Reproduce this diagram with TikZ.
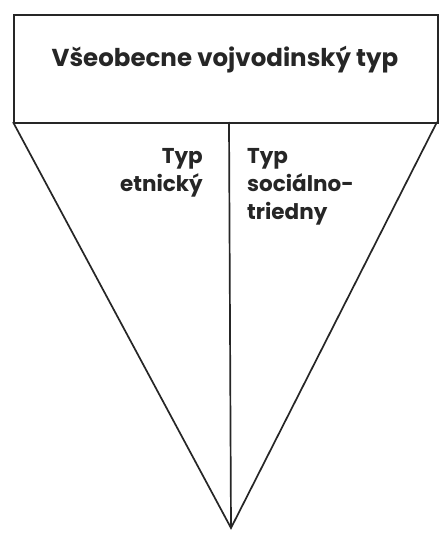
\documentclass[tikz,border=0pt]{standalone}
\usepackage{fontspec}
\setmainfont{Poppins}
\begin{document}
\begin{tikzpicture}[x=1pt,y=-1pt,
  frame/.style={draw=black!85, line width=1.7pt},
  lbl/.style={font=\bfseries\fontsize{21.5}{28}\selectfont, text=black!85, inner sep=0pt}]
\useasboundingbox (0,0) rectangle (440,533);
\fill[white] (0,0) rectangle (440,533);
\node[frame, minimum width=424pt, minimum height=108pt, anchor=north west, inner sep=0pt] (top) at (13,14) {};
\node[lbl, font=\bfseries\fontsize{24.5}{28}\selectfont] (title) at (225,60) {Všeobecne vojvodinský typ};
\coordinate (tl) at (13,122);
\coordinate (tr) at (437,122);
\coordinate (apex) at (231,528);
\coordinate (mid) at (229,122);
\draw[frame, line join=miter] (tl) -- (apex) -- (tr);
\draw[frame] (mid) -- (apex);
\node[lbl, align=right, anchor=north east] (etn) at (203,148) {Typ\\etnický};
\node[lbl, align=left, anchor=north west] (soc) at (247,148) {Typ\\sociálno-\\triedny};
\end{tikzpicture}
\end{document}
